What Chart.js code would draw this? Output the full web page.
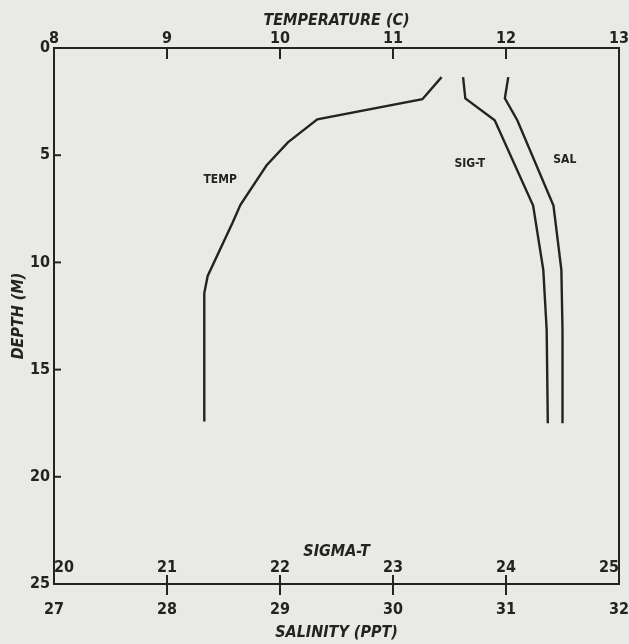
<!DOCTYPE html>
<html>
<head>
<meta charset="utf-8">
<script src="https://cdn.jsdelivr.net/npm/chart.js@4"></script>
<style>
  html, body { margin: 0; padding: 0; background: #e9e9e6; }
  canvas { display: block; }
</style>
</head>
<body>
<canvas id="profile" width="629" height="644"></canvas>
<script>
// station profile: depth (m) against temperature, sigma-t and salinity
const tempDepth = [1.36, 2.39, 3.33, 4.40, 5.48, 7.31, 8.15, 10.63, 11.43, 17.42];
const temperature = [11.43, 11.26, 10.33, 10.07, 9.88, 9.65, 9.58, 9.36, 9.33, 9.33];

const densDepth = [1.36, 2.35, 3.37, 7.35, 10.35, 13.16, 17.5];
const sigmaT = [23.62, 23.64, 23.90, 24.24, 24.33, 24.36, 24.37];
const salinity = [31.02, 30.99, 31.10, 31.42, 31.49, 31.50, 31.50];

// names written next to the curves (value on own axis, depth)
const curveNames = ["TEMP", "SIG-T", "SAL"];
const curveNameAxis = ["temp", "sigma", "sal"];
const curveNameValue = [9.47, 23.68, 31.52];
const curveNameDepth = [6.14, 5.39, 5.2];

const INK = "#232323";
const FONT = "'DejaVu Sans Condensed', 'DejaVu Sans', sans-serif";
const tickFont = { family: FONT, size: 16, weight: "bold" };
const titleFont = { family: FONT, size: 16, weight: "bold", style: "italic" };

function toPoints(xs, ys) {
  return xs.map((x, i) => ({ x, y: ys[i] }));
}

const noGrid = { display: false, drawTicks: false };

// keep the plot box where the reference has it: no extra room for end labels
function fixHeight(h) {
  return (s) => {
    s.height = h;
    s.paddingLeft = 0;
    s.paddingRight = 0;
  };
}

// box + plotter style tick marks, drawn off the chart's own scales
const frameAndTicks = {
  id: "frameAndTicks",
  afterDatasetsDraw(chart) {
    const { ctx, chartArea: a, scales } = chart;
    ctx.save();
    ctx.strokeStyle = INK;
    ctx.lineWidth = 2;
    ctx.strokeRect(a.left, a.top, a.right - a.left, a.bottom - a.top);

    const seg = (x1, y1, x2, y2) => {
      ctx.beginPath();
      ctx.moveTo(x1, y1);
      ctx.lineTo(x2, y2);
      ctx.stroke();
    };

    scales.y.ticks.forEach((t) => {
      if (t.value <= scales.y.min || t.value >= scales.y.max) return;
      const py = scales.y.getPixelForValue(t.value);
      seg(a.left, py, a.left + 7, py);
    });
    scales.temp.ticks.forEach((t) => {
      if (t.value <= scales.temp.min || t.value >= scales.temp.max) return;
      const px = scales.temp.getPixelForValue(t.value);
      seg(px, a.top, px, a.top + 11);
    });
    scales.sigma.ticks.forEach((t) => {
      if (t.value <= scales.sigma.min || t.value >= scales.sigma.max) return;
      const px = scales.sigma.getPixelForValue(t.value);
      seg(px, a.bottom - 9, px, a.bottom + 11);
    });

    ctx.fillStyle = INK;
    ctx.font = "bold 12px " + FONT;
    ctx.textAlign = "center";
    ctx.textBaseline = "middle";
    curveNames.forEach((name, i) => {
      const px = scales[curveNameAxis[i]].getPixelForValue(curveNameValue[i]);
      const py = scales.y.getPixelForValue(curveNameDepth[i]);
      ctx.fillText(name, px, py);
    });
    ctx.restore();
  },
};

const lineStyle = {
  showLine: true,
  borderColor: INK,
  borderWidth: 2.4,
  pointRadius: 0,
  fill: false,
  tension: 0,
};

new Chart(document.getElementById("profile"), {
  type: "scatter",
  data: {
    datasets: [
      { label: "TEMP", data: toPoints(temperature, tempDepth), xAxisID: "temp", ...lineStyle },
      { label: "SIG-T", data: toPoints(sigmaT, densDepth), xAxisID: "sigma", ...lineStyle },
      { label: "SAL", data: toPoints(salinity, densDepth), xAxisID: "sal", ...lineStyle },
    ],
  },
  options: {
    responsive: false,
    animation: false,
    layout: { padding: { left: 0, right: 10, top: 0, bottom: 0 } },
    plugins: { legend: { display: false }, tooltip: { enabled: false } },
    scales: {
      y: {
        type: "linear",
        position: "left",
        reverse: true,
        min: 0,
        max: 25,
        grid: noGrid,
        border: { display: false },
        ticks: { stepSize: 5, padding: 4, color: INK, font: tickFont },
        title: { display: true, text: "DEPTH (M)", color: INK, font: titleFont, padding: { top: 9, bottom: 0 } },
        afterFit: (s) => { s.width = 54; s.paddingTop = 0; s.paddingBottom = 0; },
      },
      temp: {
        type: "linear",
        position: "top",
        min: 8,
        max: 13,
        grid: noGrid,
        border: { display: false },
        ticks: { stepSize: 1, padding: 0, autoSkip: false, maxRotation: 0, color: INK, font: tickFont },
        title: { display: true, text: "TEMPERATURE (C)", color: INK, font: titleFont, padding: { top: 11, bottom: 0 } },
        afterFit: fixHeight(48),
      },
      sigma: {
        type: "linear",
        position: "bottom",
        weight: 0,
        min: 20,
        max: 25,
        grid: noGrid,
        border: { display: false },
        ticks: { stepSize: 1, mirror: true, padding: 7, align: "inner", autoSkip: false, maxRotation: 0, color: INK, font: tickFont },
        title: { display: true, text: "SIGMA-T", color: INK, font: titleFont, padding: { top: 0, bottom: 23 } },
        afterFit: fixHeight(0),
      },
      sal: {
        type: "linear",
        position: "bottom",
        weight: 1,
        min: 27,
        max: 32,
        grid: noGrid,
        border: { display: false },
        ticks: { stepSize: 1, padding: 16, autoSkip: false, maxRotation: 0, color: INK, font: tickFont },
        title: { display: true, text: "SALINITY (PPT)", color: INK, font: titleFont, padding: { top: 0, bottom: 2 } },
        afterFit: fixHeight(60),
      },
    },
  },
  plugins: [frameAndTicks],
});
</script>
</body>
</html>
